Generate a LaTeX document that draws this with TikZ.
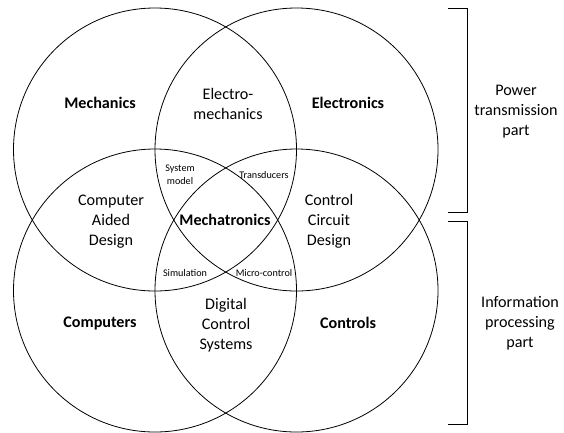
\documentclass[tikz,border=0pt]{standalone}
\usepackage{fontspec}
\setmainfont{Carlito}
\begin{document}
\begin{tikzpicture}[x=1bp,y=-1bp,
  ring/.style={draw,line width=0.8bp},
  big/.style={font=\fontsize{16.2}{20}\selectfont,align=center,inner sep=0pt},
  bigb/.style={font=\fontsize{16.2}{20}\selectfont\bfseries,align=center,inner sep=0pt},
  small/.style={font=\fontsize{10.2}{13}\selectfont,align=center,inner sep=0pt},
  brk/.style={draw,line width=0.8bp}]
\useasboundingbox (0,0) rectangle (564,432);
\coordinate (c1) at (155,149.5);
\coordinate (c2) at (296.5,149.5);
\coordinate (c3) at (155,290.5);
\coordinate (c4) at (296.5,290.5);
\draw[ring] (c1) circle[radius=141.5];
\draw[ring] (c2) circle[radius=141.5];
\draw[ring] (c3) circle[radius=141.5];
\draw[ring] (c4) circle[radius=141.5];
\node[bigb] (mech) at (100,103) {Mechanics};
\node[big] (em) at (228,104) {Electro-\\mechanics};
\node[bigb] (elec) at (348,103) {Electronics};
\node[small] (sm) at (180,175) {System\\model};
\node[small] (tr) at (264,175) {Transducers};
\node[big] (cad) at (111,222) {Computer\\Aided\\Design};
\node[bigb] (mt) at (225,220) {Mechatronics};
\node[big] (ccd) at (329,221) {Control\\Circuit\\Design};
\node[small] (sim) at (185,273) {Simulation};
\node[small] (mc) at (264,273) {Micro-control};
\node[bigb] (comp) at (100,323) {Computers};
\node[big] (dcs) at (226,325) {Digital\\Control\\Systems};
\node[bigb] (ctrl) at (348,323) {Controls};
\coordinate (p1) at (448,8);
\coordinate (p2) at (467,8);
\coordinate (p3) at (467,212);
\coordinate (p4) at (448,212);
\draw[brk] (p1) -- (p2) -- (p3) -- (p4);
\coordinate (q1) at (448,221);
\coordinate (q2) at (467,221);
\coordinate (q3) at (467,424);
\coordinate (q4) at (448,424);
\draw[brk] (q1) -- (q2) -- (q3) -- (q4);
\node[big] (pt) at (516,112) {Power\\transmission\\part};
\node[big] (ip) at (520,323) {Information\\processing\\part};
\end{tikzpicture}
\end{document}
